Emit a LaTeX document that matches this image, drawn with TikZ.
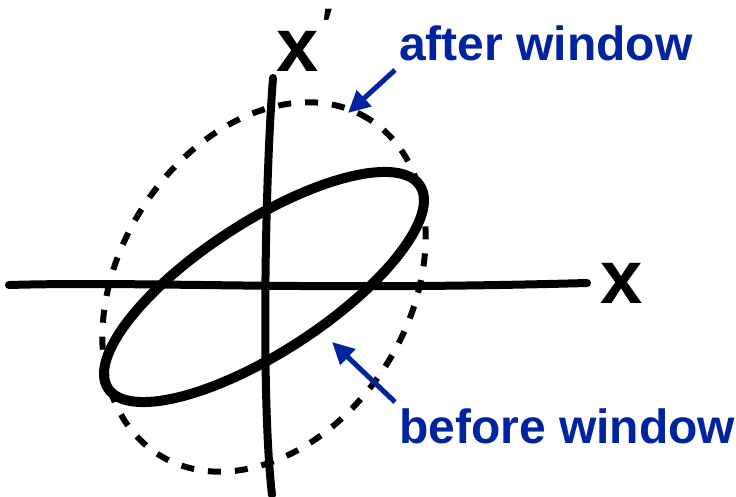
\documentclass[tikz,border=0pt]{standalone}
\usepackage{fontspec}
\setmainfont{Liberation Sans}
\usetikzlibrary{arrows.meta}
\definecolor{lblue}{RGB}{0,36,160}
\begin{document}
\begin{tikzpicture}[x=1pt,y=-1pt,
  axis/.style={line width=8pt, line cap=round},
  solidell/.style={line width=10pt},
  dashell/.style={line width=6pt, dash pattern=on 13pt off 14pt},
  lbl/.style={text=lblue, font=\fontsize{48}{50}\selectfont\bfseries, inner sep=0pt, anchor=base west},
  pointer/.style={draw=lblue, line width=5pt, -{Triangle[length=22pt,width=21pt]}},
  axlbl/.style={font=\fontsize{76}{80}\selectfont\bfseries, inner sep=0pt, anchor=base west}]
\useasboundingbox (0,0) rectangle (736,497);
\coordinate (O) at (264,287);
% ellipses
\draw[dashell, rotate around={58:(O)}] (O) ellipse [x radius=198pt, y radius=145pt];
\draw[solidell, rotate around={33:(O)}] (O) ellipse [x radius=186pt, y radius=65pt];
% axes
\coordinate (hl) at (9,285);
\coordinate (hr) at (587,283);
\coordinate (vt) at (273,78);
\coordinate (vb) at (272,495);
\draw[axis] (hl) .. controls (150,281) and (300,291) .. (hr);
\draw[axis] (vt) .. controls (265,180) and (261,400) .. (vb);
% axis labels
\node[axlbl] (xlab) at (600,303) {x};
\node[axlbl] (xplab) at (276,72) {x};
\node[font=\fontsize{44}{46}\selectfont\bfseries, inner sep=0pt, anchor=base west] (prime) at (322,40) {′};
% blue labels and pointers
\node[lbl] (after) at (399,61) {after window};
\node[lbl] (before) at (399,443) {before window};
\coordinate (aftertip) at (348,113);
\coordinate (beforetip) at (332,342);
\draw[pointer] ([xshift=-4pt,yshift=-9pt]after.base west) -- (aftertip);
\draw[pointer] ([xshift=-4pt,yshift=6pt]before.north west) -- (beforetip);
\end{tikzpicture}
\end{document}
